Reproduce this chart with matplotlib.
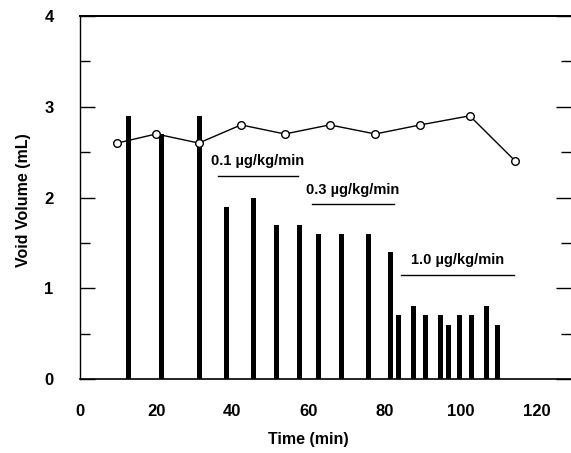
import numpy as np
import matplotlib
matplotlib.use("Agg")
import matplotlib.pyplot as plt
from matplotlib.ticker import MultipleLocator

plt.rcParams['font.family'] = ['Liberation Sans', 'DejaVu Sans']
plt.rcParams['font.weight'] = 'bold'

# void volume bars (individual voids)
void_time = [12.7, 21.4, 31.5, 38.5, 45.5, 51.6, 57.6, 62.6, 68.7, 75.7,
             81.5, 83.7, 87.7, 90.7, 94.7, 96.9, 99.7, 102.8, 106.7, 109.6]
void_volume = [2.9, 2.7, 2.9, 1.9, 2.0, 1.7, 1.7, 1.6, 1.6, 1.6,
               1.4, 0.7, 0.8, 0.7, 0.7, 0.6, 0.7, 0.7, 0.8, 0.6]

# control line (open circles)
ctrl_time = [9.8, 20.0, 31.2, 42.3, 53.8, 65.6, 77.6, 89.4, 102.4, 114.4]
ctrl_volume = [2.6, 2.7, 2.6, 2.8, 2.7, 2.8, 2.7, 2.8, 2.9, 2.4]

# dose annotations: label, start, end, line y
dose_labels = ["0.1 \u00b5g/kg/min", "0.3 \u00b5g/kg/min", "1.0 \u00b5g/kg/min"]
dose_start = [36.2, 60.9, 84.3]
dose_end = [57.2, 82.4, 113.9]
dose_y = [2.24, 1.93, 1.15]

fig = plt.figure(figsize=(5.71, 4.53), dpi=100)
ax = fig.add_axes([80 / 571, 1 - 379 / 453, 491 / 571, 363 / 453])

ax.bar(void_time, void_volume, width=1.3, color='black', zorder=2)
ax.plot(ctrl_time, ctrl_volume, color='black', lw=1, marker='o', ms=5.5,
        mfc='white', mec='black', mew=1, zorder=3)

for lab, x0, x1, y in zip(dose_labels, dose_start, dose_end, dose_y):
    ax.plot([x0, x1], [y, y], color='black', lw=1)
    ax.text((x0 + x1) / 2, y + 0.08, lab, ha='center', va='bottom',
            fontsize=10.5, fontweight='bold')

ax.set_xlim(0, 129)
ax.set_ylim(0, 4)
ax.set_xticks([0, 20, 40, 60, 80, 100, 120])
ax.set_yticks([0, 1, 2, 3, 4])
ax.yaxis.set_minor_locator(MultipleLocator(0.5))
ax.tick_params(axis='x', length=0, pad=18, labelsize=12)
ax.tick_params(axis='y', which='major', direction='in', length=11,
               width=1, pad=19, labelsize=12, right=True)
ax.tick_params(axis='y', which='minor', direction='in', length=7,
               width=1, right=True)
for lbl in ax.get_xticklabels() + ax.get_yticklabels():
    lbl.set_fontweight('bold')

ax.spines['right'].set_visible(False)
ax.spines['top'].set_linewidth(1.4)
ax.spines['left'].set_linewidth(1)
ax.spines['bottom'].set_linewidth(1.2)

ax.set_xlabel("Time (min)", fontsize=11.5, fontweight='bold')
ax.set_ylabel("Void Volume (mL)", fontsize=11.5, fontweight='bold')
ax.xaxis.set_label_coords(0.464, -0.145)
ax.yaxis.set_label_coords(-0.1, 0.493)

fig.savefig("out.png", dpi=100)
